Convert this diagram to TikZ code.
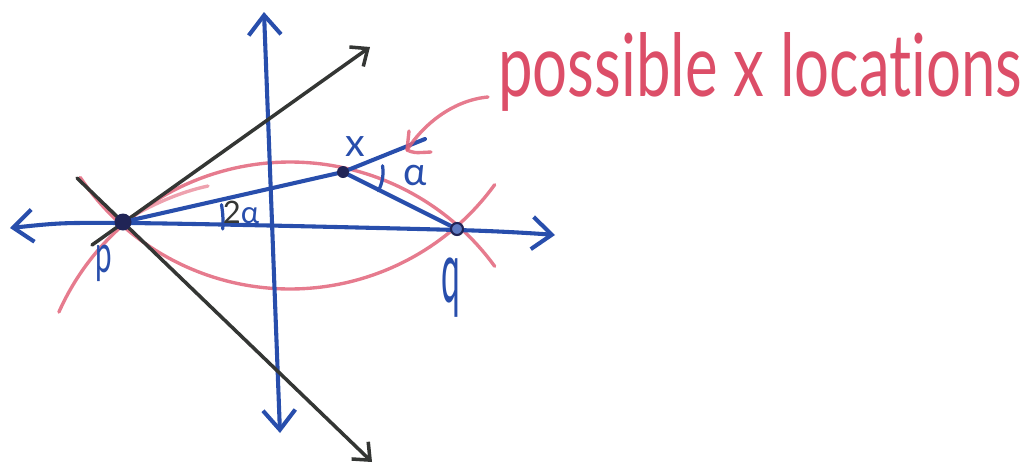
\documentclass[tikz,border=0pt]{standalone}
\usepackage{fontspec}
\setmainfont{Lato}[Ligatures=NoCommon]
\usetikzlibrary{arrows.meta}
\definecolor{inkblue}{RGB}{40,78,172}
\definecolor{inkdark}{RGB}{52,54,52}
\definecolor{inkred}{RGB}{226,100,122}
\definecolor{textred}{RGB}{220,78,104}
\definecolor{dotblue}{RGB}{32,36,86}
\tikzset{
  blueline/.style={draw=inkblue, line width=2.9pt, line cap=round, line join=round},
  blueaxis/.style={blueline, arrows={Straight Barb[length=14pt,width=23pt]-Straight Barb[length=14pt,width=23pt]}},
  blackarrow/.style={draw=inkdark, line width=2.5pt, line cap=round, arrows={-Straight Barb[length=10pt,width=17pt]}},
  redline/.style={draw=inkred, line width=2.4pt, line cap=round, line join=round, opacity=0.85},
  bluelabel/.style={text=inkblue, inner sep=0pt, font=\fontsize{28}{30}\selectfont},
}
\begin{document}
\begin{tikzpicture}[x=0.25mm, y=-0.25mm]
\useasboundingbox (0,0) rectangle (1031,466);
% named points
\coordinate (P) at (123,222);
\coordinate (X) at (343,172);
\coordinate (Q) at (457,229);
\coordinate (Xend) at (425,139);
\coordinate (arrS) at (488,97);
\coordinate (arrT) at (407,150);
% red circles of possible x
\draw[redline] plot[domain=36:156, samples=70, smooth] ({290+253*cos(\x)}, {415-253*sin(\x)});
\draw[redline] plot[domain=36:146, samples=70, smooth] ({290+253*cos(\x)}, {36+253*sin(\x)});
\draw[redline, opacity=0.6] (P) .. controls (150,205) and (180,192) .. (208,186);
% axes
\draw[blueaxis] plot[smooth, tension=0.5] coordinates {(10,228) (123,223) (457,230) (555,235)};
\draw[blueaxis] (264,12) -- (280,433);
% black lines
\draw[blackarrow] (92,245) -- (370,47);
\draw[blackarrow] (77,178) -- (372,462);
% triangle
\draw[blueline] (P) -- (X) -- (Xend);
\draw[blueline] (X) -- (Q);
% angle marks
\draw[blueline, line width=2.3pt] plot[domain=9:-28, samples=20, smooth] ({343+40*cos(\x)},{172-40*sin(\x)});
\draw[blueline, line width=2.3pt] plot[domain=-4:10, samples=20, smooth] ({123+100*cos(\x)},{222-100*sin(\x)});
% points
\fill[dotblue] (P) circle (8.5);
\fill[dotblue] (X) circle (6);
\filldraw[draw=dotblue, fill=inkblue!75, line width=1.5pt] (Q) circle (6);
% labels
\node[bluelabel] (xl) at (355,147) {x};
\node[bluelabel] (al) at (415,175) {α};
\node[bluelabel] (pl) at (104,263) {\scalebox{0.75}[1.35]{p}};
\node[bluelabel] (ql) at (451,288) {\scalebox{0.85}[2.2]{q}};
\node[bluelabel, font=\fontsize{22}{24}\selectfont] (twoa) at (241,212) {\textcolor{inkdark}{2}α};
% annotation
\node[anchor=south west, text=textred, inner sep=0pt] (loc) at (498,112) {\resizebox{131mm}{16mm}{possible x locations}};
\draw[redline] (arrS) .. controls (455,100) and (425,122) .. (arrT);
\draw[redline] (409,131) -- (arrT) .. controls (414,153) .. (431,152);
\end{tikzpicture}
\end{document}
